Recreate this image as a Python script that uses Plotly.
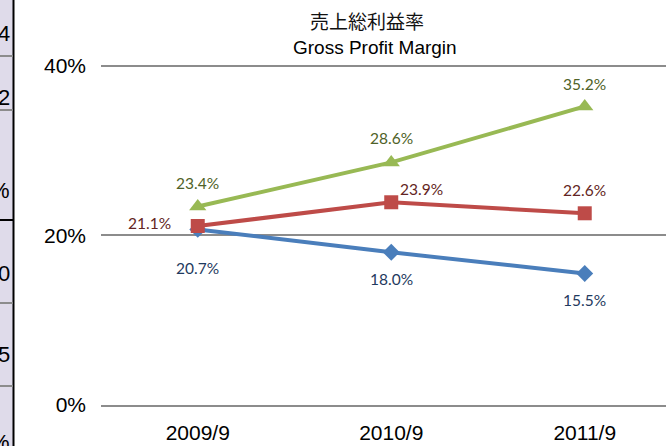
import plotly.graph_objects as go

categories = ["2009/9", "2010/9", "2011/9"]
series_names = ["Series A", "Series B", "Series C"]
blue_vals = [20.7, 18.0, 15.5]
red_vals = [21.1, 23.9, 22.6]
green_vals = [23.4, 28.6, 35.2]
y_ticks = [0, 20, 40]
y_tick_labels = ["0%", "20%", "40%"]
strip_labels = ["4", "2", "%", "0", "5", "%"]

W, H = 666, 446
ML, MR, MT, MB = 101, 0, 64, 41
PW, PH = W - ML - MR, H - MT - MB

def px_x(px):
    return (px - ML) / PW

def px_y(py):
    return (H - MB - py) / PH

xs = [0, 1, 2]
fig = go.Figure()

styles = [
    (blue_vals, "#4A7EBB", "diamond", 13),
    (red_vals, "#BE4B48", "square", 14),
    (green_vals, "#98B954", "triangle-up", 15),
]
for (vals, col, sym, size), name in zip(styles, series_names):
    fig.add_trace(go.Scatter(
        x=xs, y=vals, mode="lines+markers", name=name,
        line=dict(color=col, width=4),
        marker=dict(color=col, symbol=sym, size=size),
        showlegend=False, cliponaxis=False,
    ))

# data labels (offsets in pixels)
label_offsets = {
    0: [(0, -39), (0, -27), (0, -26)],
    1: [(-48, 3), (30, 13), (0, 23)],
    2: [(0, 24), (0, 24), (0, 22)],
}
label_colors = ["#1F3A60", "#632523", "#4F6228"]
for si, vals in enumerate([blue_vals, red_vals, green_vals]):
    for i, v in enumerate(vals):
        dx, dy = label_offsets[si][i]
        fig.add_annotation(
            x=xs[i], y=v, text=f"{v:.1f}%", showarrow=False,
            xanchor="center", yanchor="middle",
            xshift=dx, yshift=dy,
            font=dict(family="Lato, Carlito, sans-serif", size=15.5, color=label_colors[si]),
        )

# Title
fig.add_annotation(x=px_x(367), y=px_y(21), xref="paper", yref="paper",
                   text="売上総利益率", showarrow=False, xanchor="center", yanchor="middle",
                   font=dict(family="Noto Sans CJK JP", size=19, color="#111111"))
fig.add_annotation(x=px_x(375), y=px_y(47), xref="paper", yref="paper",
                   text="Gross Profit Margin", showarrow=False, xanchor="center", yanchor="middle",
                   font=dict(family="Liberation Sans, Arial", size=19, color="#000000"))

# Left spreadsheet strip (decoration)
shapes = [
    dict(type="rect", xref="paper", yref="paper", x0=px_x(0), x1=px_x(13), y0=px_y(446), y1=px_y(0),
         fillcolor="#DFDBEA", line=dict(width=0), layer="above"),
    dict(type="line", xref="paper", yref="paper", x0=px_x(13.5), x1=px_x(13.5), y0=px_y(446), y1=px_y(0),
         line=dict(color="#000000", width=2), layer="above"),
]
for py, col in [(56, "#8C8C8C"), (110, "#8C8C8C"), (220, "#000000"), (303, "#8C8C8C"), (386, "#8C8C8C")]:
    shapes.append(dict(type="line", xref="paper", yref="paper", x0=px_x(0), x1=px_x(13), y0=px_y(py), y1=px_y(py),
                       line=dict(color=col, width=2), layer="above"))
for lab, py in zip(strip_labels, [33, 97, 190, 273, 354, 443]):
    fig.add_annotation(x=px_x(12), y=px_y(py), xref="paper", yref="paper", text=lab, showarrow=False,
                       xanchor="right", yanchor="middle",
                       font=dict(family="Liberation Sans, Arial", size=22, color="#000000"))

fig.update_layout(
    width=W, height=H,
    margin=dict(l=ML, r=MR, t=MT, b=MB),
    paper_bgcolor="white", plot_bgcolor="white",
    shapes=shapes,
    xaxis=dict(range=[-0.5, 2.42], tickvals=xs, ticktext=categories, showgrid=False, zeroline=False,
               showline=True, linecolor="#8C8C8C", linewidth=1.5, ticks="",
               tickfont=dict(family="Liberation Sans, Arial", size=21, color="#000000"),
               ticklabelstandoff=8),
    yaxis=dict(range=[0, 40.2], tickvals=y_ticks, ticktext=y_tick_labels, showgrid=True,
               gridcolor="#8C8C8C", gridwidth=1.5, zeroline=False, showline=False, ticks="",
               tickfont=dict(family="Liberation Sans, Arial", size=21, color="#000000"),
               ticklabelstandoff=14),
)

fig.write_html("out.html", config={"displayModeBar": False},
               post_script="document.body.style.margin='0';document.body.style.padding='0';")
